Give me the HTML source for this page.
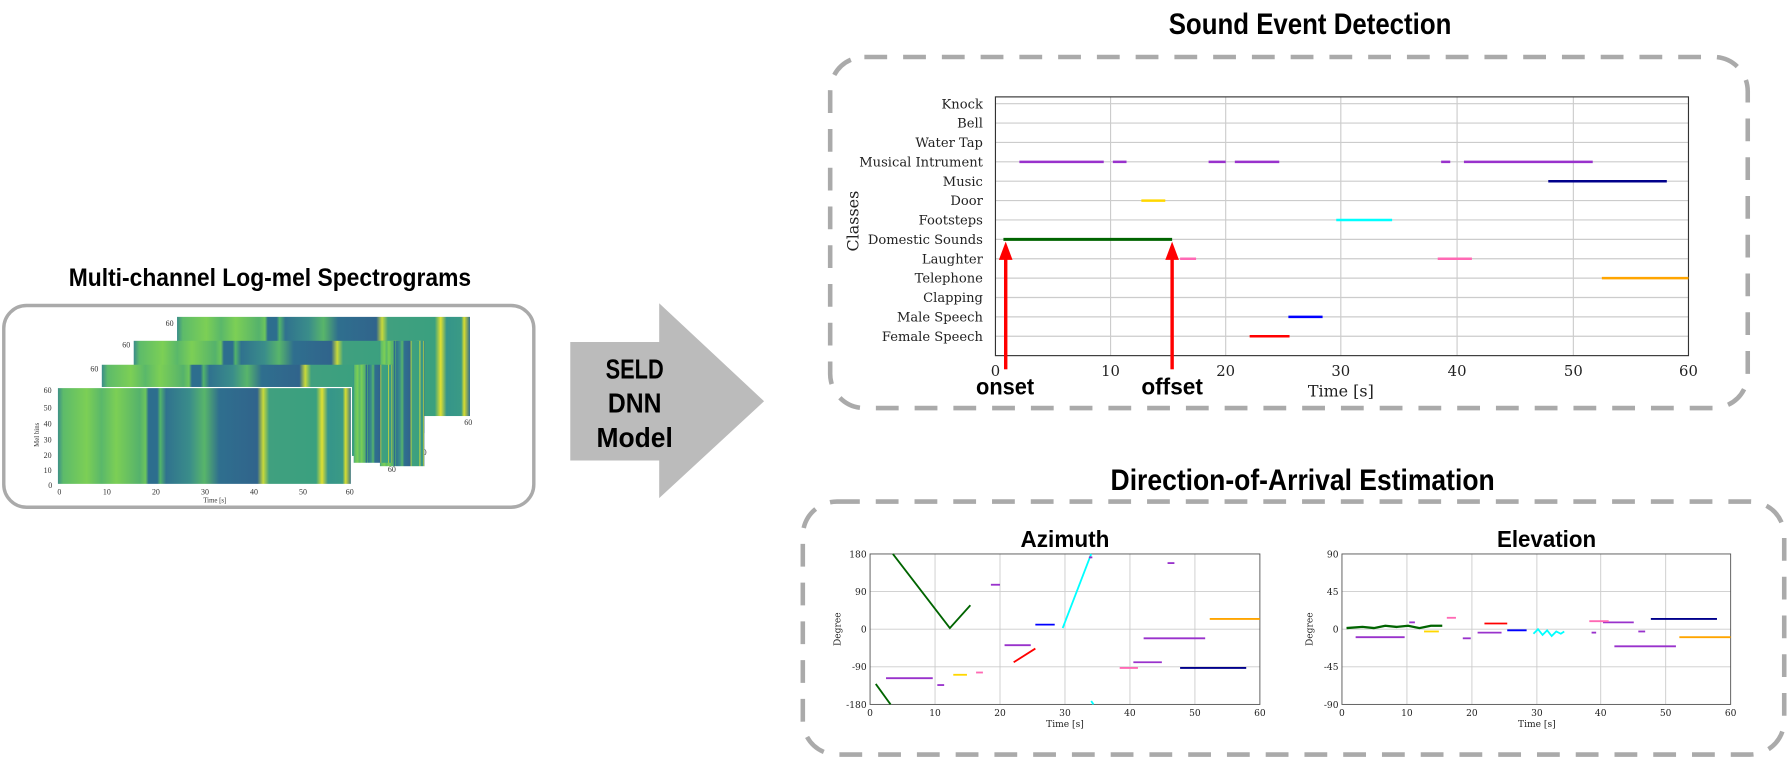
<!DOCTYPE html>
<html><head><meta charset="utf-8"><style>
html,body{margin:0;padding:0;background:#fff;}
svg{display:block;}
.t{font-family:"Liberation Sans Narrow","Liberation Sans",sans-serif;font-weight:bold;}
.s{font-family:"DejaVu Serif","Liberation Serif",serif;fill:#222;}
</style></head><body>
<svg width="1788" height="758" viewBox="0 0 1568 665" xmlns="http://www.w3.org/2000/svg">
<defs>
<linearGradient id="sp" x1="0" x2="1" y1="0" y2="0">
<stop offset="0" stop-color="#3a8c8a"/><stop offset="0.02" stop-color="#5dbb6a"/>
<stop offset="0.1" stop-color="#7ccf55"/><stop offset="0.15" stop-color="#5ab86a"/>
<stop offset="0.2" stop-color="#7ccf55"/><stop offset="0.28" stop-color="#55b26c"/>
<stop offset="0.3" stop-color="#6cc55c"/><stop offset="0.31" stop-color="#2d6e8e"/>
<stop offset="0.34" stop-color="#2d6e8e"/><stop offset="0.35" stop-color="#52b46a"/>
<stop offset="0.37" stop-color="#30728e"/><stop offset="0.45" stop-color="#3a8d8a"/>
<stop offset="0.5" stop-color="#58b56a"/><stop offset="0.55" stop-color="#2f6f8e"/>
<stop offset="0.68" stop-color="#30648c"/><stop offset="0.7" stop-color="#c8d93a"/>
<stop offset="0.72" stop-color="#40a07f"/><stop offset="0.88" stop-color="#3aa07f"/>
<stop offset="0.9" stop-color="#e0e030"/><stop offset="0.92" stop-color="#35958a"/>
<stop offset="0.97" stop-color="#3a9a85"/><stop offset="0.98" stop-color="#d8dd30"/>
<stop offset="1" stop-color="#2f6c8e"/>
</linearGradient>
</defs>

<!-- Left -->
<text class="t" x="60" y="251" font-size="22" textLength="353" lengthAdjust="spacingAndGlyphs">Multi-channel Log-mel Spectrograms</text>
<rect x="3" y="268" width="465" height="177" rx="20" fill="none" stroke="#aaa" stroke-width="3"/>
<g font-family="Liberation Serif,serif" font-size="7" fill="#333">
<rect x="155" y="278" width="257" height="87" fill="url(#sp)"/><text x="407" y="373">60</text><text x="145" y="286">60</text>
<rect x="117" y="299" width="255" height="81" fill="url(#sp)"/><text x="367" y="399">60</text><text x="107" y="305">60</text>
<rect x="333" y="299" width="39" height="110" fill="url(#sp)"/><text x="340" y="414">60</text>
<rect x="89" y="320" width="255" height="80" fill="url(#sp)"/><text x="79" y="326">60</text>
<rect x="310" y="320" width="34" height="86" fill="url(#sp)"/>
<rect x="50" y="340" width="258" height="85" fill="url(#sp)" stroke="#fff" stroke-width="1"/>
<text x="38" y="345">60</text><text x="38" y="360">50</text><text x="38" y="374">40</text><text x="38" y="388">30</text><text x="38" y="402">20</text><text x="38" y="415">10</text><text x="42" y="428">0</text>
<text x="50" y="434">0</text><text x="90" y="434">10</text><text x="133" y="434">20</text><text x="176" y="434">30</text><text x="219" y="434">40</text><text x="262" y="434">50</text><text x="303" y="434">60</text>
<text x="178" y="441" font-size="6">Time [s]</text>
<text transform="translate(34,392) rotate(-90)" font-size="6">Mel bins</text>
</g>

<!-- Arrow -->
<polygon points="500,300 578,300 578,266 670,352 578,437 578,404 500,404" fill="#bbb"/>
<g class="t" font-size="24"><text x="531" y="332" textLength="51" lengthAdjust="spacingAndGlyphs">SELD</text><text x="533" y="362" textLength="47" lengthAdjust="spacingAndGlyphs">DNN</text><text x="523" y="392" textLength="67" lengthAdjust="spacingAndGlyphs">Model</text></g>

<!-- SED -->
<text class="t" x="1025" y="30" font-size="26" textLength="248" lengthAdjust="spacingAndGlyphs">Sound Event Detection</text>
<rect x="728" y="50" width="805" height="308" rx="30" fill="none" stroke="#aaa" stroke-width="4" stroke-dasharray="20,14"/>
<g stroke="#ccc" stroke-width="1">
<line x1="974" y1="85" x2="974" y2="312"/><line x1="1075" y1="85" x2="1075" y2="312"/><line x1="1176" y1="85" x2="1176" y2="312"/><line x1="1278" y1="85" x2="1278" y2="312"/><line x1="1380" y1="85" x2="1380" y2="312"/>
<line x1="873" y1="91" x2="1481" y2="91"/><line x1="873" y1="108" x2="1481" y2="108"/><line x1="873" y1="125" x2="1481" y2="125"/><line x1="873" y1="142" x2="1481" y2="142"/><line x1="873" y1="159" x2="1481" y2="159"/><line x1="873" y1="176" x2="1481" y2="176"/><line x1="873" y1="193" x2="1481" y2="193"/><line x1="873" y1="210" x2="1481" y2="210"/><line x1="873" y1="227" x2="1481" y2="227"/><line x1="873" y1="244" x2="1481" y2="244"/><line x1="873" y1="261" x2="1481" y2="261"/><line x1="873" y1="278" x2="1481" y2="278"/><line x1="873" y1="295" x2="1481" y2="295"/>
</g>
<rect x="873" y="85" width="608" height="227" fill="none" stroke="#333" stroke-width="1"/>
<g class="s" font-size="11.5" text-anchor="end">
<text x="862" y="95">Knock</text><text x="862" y="112">Bell</text><text x="862" y="129">Water Tap</text><text x="862" y="146">Musical Intrument</text><text x="862" y="163">Music</text><text x="862" y="180">Door</text><text x="862" y="197">Footsteps</text><text x="862" y="214">Domestic Sounds</text><text x="862" y="231">Laughter</text><text x="862" y="248">Telephone</text><text x="862" y="265">Clapping</text><text x="862" y="282">Male Speech</text><text x="862" y="299">Female Speech</text>
</g>
<g class="s" font-size="13" text-anchor="middle">
<text x="873" y="330">0</text><text x="974" y="330">10</text><text x="1075" y="330">20</text><text x="1176" y="330">30</text><text x="1278" y="330">40</text><text x="1380" y="330">50</text><text x="1481" y="330">60</text>
<text x="1176" y="348" font-size="14">Time [s]</text>
<text transform="translate(753,194) rotate(-90)" font-size="14">Classes</text>
</g>
<g stroke-width="2.2" fill="none">
<g stroke="#9932cc"><line x1="894" y1="142" x2="968" y2="142"/><line x1="976" y1="142" x2="988" y2="142"/><line x1="1060" y1="142" x2="1075" y2="142"/><line x1="1083" y1="142" x2="1122" y2="142"/><line x1="1264" y1="142" x2="1272" y2="142"/><line x1="1284" y1="142" x2="1397" y2="142"/></g>
<line x1="1358" y1="159" x2="1462" y2="159" stroke="#00008b"/>
<line x1="1001" y1="176" x2="1022" y2="176" stroke="#ffd700"/>
<line x1="1172" y1="193" x2="1221" y2="193" stroke="#00ffff"/>
<line x1="880" y1="210" x2="1028" y2="210" stroke="#006400" stroke-width="2.6"/>
<line x1="1035" y1="227" x2="1049" y2="227" stroke="#ff69b4"/><line x1="1261" y1="227" x2="1291" y2="227" stroke="#ff69b4"/>
<line x1="1405" y1="244" x2="1481" y2="244" stroke="#ffa500"/>
<line x1="1130" y1="278" x2="1160" y2="278" stroke="#0000ff"/>
<line x1="1096" y1="295" x2="1131" y2="295" stroke="#ff0000"/>
</g>
<g fill="#ff0000">
<rect x="880.5" y="226" width="3" height="98"/><polygon points="876,228 888,228 882,212"/>
<rect x="1026.5" y="226" width="3" height="98"/><polygon points="1022,228 1034,228 1028,212"/>
</g>
<text class="t" x="856" y="346" font-size="20" textLength="51" lengthAdjust="spacingAndGlyphs">onset</text>
<text class="t" x="1001" y="346" font-size="20" textLength="54" lengthAdjust="spacingAndGlyphs">offset</text>

<!-- DOA -->
<text class="t" x="974" y="430" font-size="26" textLength="337" lengthAdjust="spacingAndGlyphs">Direction-of-Arrival Estimation</text>
<rect x="704" y="440" width="861" height="222" rx="30" fill="none" stroke="#aaa" stroke-width="4" stroke-dasharray="20,14"/>
<text class="t" x="895" y="480" font-size="20" textLength="78" lengthAdjust="spacingAndGlyphs">Azimuth</text>
<text class="t" x="1313" y="480" font-size="20" textLength="87" lengthAdjust="spacingAndGlyphs">Elevation</text>
<g stroke="#ccc" stroke-width="0.8">
<line x1="820" y1="486" x2="820" y2="618"/><line x1="877" y1="486" x2="877" y2="618"/><line x1="934" y1="486" x2="934" y2="618"/><line x1="991" y1="486" x2="991" y2="618"/><line x1="1048" y1="486" x2="1048" y2="618"/>
<line x1="763" y1="519" x2="1105" y2="519"/><line x1="763" y1="552" x2="1105" y2="552"/><line x1="763" y1="585" x2="1105" y2="585"/>
<line x1="1234" y1="486" x2="1234" y2="618"/><line x1="1291" y1="486" x2="1291" y2="618"/><line x1="1348" y1="486" x2="1348" y2="618"/><line x1="1404" y1="486" x2="1404" y2="618"/><line x1="1461" y1="486" x2="1461" y2="618"/>
<line x1="1177" y1="519" x2="1518" y2="519"/><line x1="1177" y1="552" x2="1518" y2="552"/><line x1="1177" y1="585" x2="1518" y2="585"/>
</g>
<rect x="763" y="486" width="342" height="132" fill="none" stroke="#555" stroke-width="0.8"/>
<rect x="1177" y="486" width="341" height="132" fill="none" stroke="#555" stroke-width="0.8"/>
<g class="s" font-size="8">
<g text-anchor="end"><text x="760" y="489">180</text><text x="760" y="522">90</text><text x="760" y="555">0</text><text x="760" y="588">-90</text><text x="760" y="621">-180</text>
<text x="1174" y="489">90</text><text x="1174" y="522">45</text><text x="1174" y="555">0</text><text x="1174" y="588">-45</text><text x="1174" y="621">-90</text></g>
<g text-anchor="middle"><text x="763" y="628">0</text><text x="820" y="628">10</text><text x="877" y="628">20</text><text x="934" y="628">30</text><text x="991" y="628">40</text><text x="1048" y="628">50</text><text x="1105" y="628">60</text>
<text x="934" y="638">Time [s]</text>
<text x="1177" y="628">0</text><text x="1234" y="628">10</text><text x="1291" y="628">20</text><text x="1348" y="628">30</text><text x="1404" y="628">40</text><text x="1461" y="628">50</text><text x="1518" y="628">60</text>
<text x="1348" y="638">Time [s]</text>
<text transform="translate(737,552) rotate(-90)">Degree</text><text transform="translate(1151,552) rotate(-90)">Degree</text></g>
</g>
<g stroke-width="1.6" fill="none">
<polyline points="783,486 833,551 851,531" stroke="#006400"/><line x1="768" y1="600" x2="781" y2="618" stroke="#006400"/>
<line x1="932" y1="551" x2="957" y2="486" stroke="#00ffff"/><line x1="957" y1="615" x2="959" y2="618" stroke="#00ffff"/>
<g stroke="#9932cc"><line x1="869" y1="513" x2="877" y2="513"/><line x1="955" y1="489" x2="958" y2="489"/><line x1="1024" y1="494" x2="1030" y2="494"/><line x1="1003" y1="560" x2="1057" y2="560"/><line x1="994" y1="581" x2="1019" y2="581"/><line x1="881" y1="566" x2="904" y2="566"/><line x1="822" y1="601" x2="828" y2="601"/><line x1="777" y1="595" x2="818" y2="595"/></g>
<line x1="908" y1="548" x2="925" y2="548" stroke="#0000ff"/>
<line x1="1061" y1="543" x2="1105" y2="543" stroke="#ffa500"/>
<line x1="1035" y1="586" x2="1093" y2="586" stroke="#00008b"/>
<line x1="982" y1="586" x2="998" y2="586" stroke="#ff69b4"/><line x1="856" y1="590" x2="862" y2="590" stroke="#ff69b4"/>
<line x1="889" y1="581" x2="908" y2="569" stroke="#ff0000"/>
<line x1="836" y1="592" x2="848" y2="592" stroke="#ffd700"/>

<polyline points="1181,551 1195,550 1205,551 1215,549 1225,550 1235,549 1245,551 1255,549 1265,549" stroke="#006400" stroke-width="2"/>
<g stroke="#9932cc"><line x1="1189" y1="559" x2="1232" y2="559"/><line x1="1236" y1="546" x2="1241" y2="546"/><line x1="1283" y1="560" x2="1290" y2="560"/><line x1="1296" y1="555" x2="1317" y2="555"/><line x1="1396" y1="555" x2="1400" y2="555"/><line x1="1406" y1="546" x2="1433" y2="546"/><line x1="1437" y1="554" x2="1443" y2="554"/><line x1="1416" y1="567" x2="1470" y2="567"/></g>
<line x1="1249" y1="554" x2="1262" y2="554" stroke="#ffd700"/>
<line x1="1269" y1="542" x2="1277" y2="542" stroke="#ff69b4"/><line x1="1394" y1="545" x2="1411" y2="545" stroke="#ff69b4"/>
<line x1="1302" y1="547" x2="1322" y2="547" stroke="#ff0000"/>
<line x1="1322" y1="553" x2="1339" y2="553" stroke="#0000ff"/>
<polyline points="1345,556 1349,552 1353,557 1357,553 1361,558 1365,554 1369,556 1372,554" stroke="#00ffff"/>
<line x1="1448" y1="543" x2="1506" y2="543" stroke="#00008b"/>
<line x1="1473" y1="559" x2="1518" y2="559" stroke="#ffa500"/>
</g>
</svg>
</body></html>
